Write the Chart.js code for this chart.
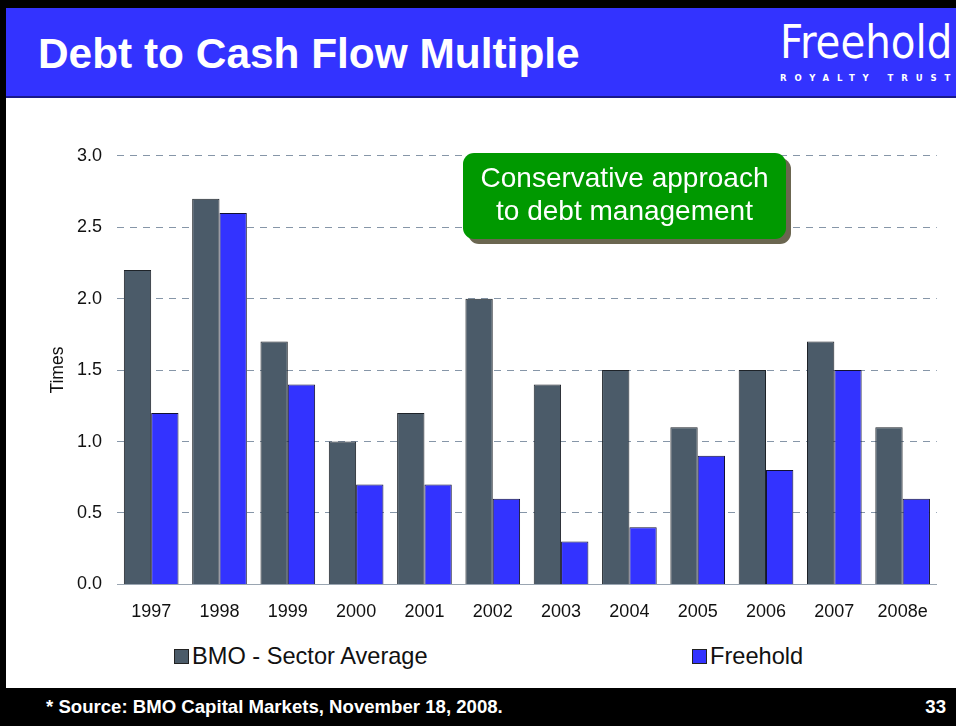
<!DOCTYPE html>
<html>
<head>
<meta charset="utf-8">
<script src="https://cdn.jsdelivr.net/npm/chart.js@4"></script>
<style>
  html, body { margin:0; padding:0; width:956px; height:726px; overflow:hidden; background:#fff; font-family:"Liberation Sans", Arial, sans-serif; }
  #slide { position:absolute; left:0; top:0; width:956px; height:726px; background:#fff; }
  #topbar { position:absolute; left:0; top:0; width:956px; height:8px; background:#000; }
  #leftbar { position:absolute; left:0; top:0; width:6px; height:688px; background:#000; }
  #header { position:absolute; left:6px; top:8px; width:950px; height:88px; background:#3333FF; border-bottom:2px solid #1a1a8a; }
  #title { position:absolute; left:32px; top:25px; color:#fff; font-weight:bold; font-size:42.4px; line-height:1; white-space:nowrap; }
  #logo { position:absolute; left:774px; top:11px; color:#fff; font-family:"DejaVu Sans Condensed","DejaVu Sans",sans-serif; font-stretch:condensed; font-size:46.5px; line-height:1; white-space:nowrap; transform-origin:0 0; transform:scaleX(0.965); }
  #logosub { position:absolute; left:774px; top:66px; color:#fff; font-weight:bold; font-size:8.5px; line-height:1; letter-spacing:7.9px; font-family:"DejaVu Sans",sans-serif; white-space:nowrap; }
  #footer { position:absolute; left:0; top:688px; width:956px; height:38px; background:#000; color:#fff; font-weight:bold; font-size:18.6px; line-height:1; }
  #src { position:absolute; left:46px; top:10px; }
  #pg { position:absolute; right:10px; top:10px; }
  #wrap { position:absolute; left:40px; top:130px; width:905px; height:510px; }
  #callout { position:absolute; left:463px; top:153px; width:323px; height:86px; background:#009900; border-radius:11px; box-shadow:5px 5px 0 #6b6650; color:#fff; font-size:28px; line-height:33px; text-align:center; box-sizing:border-box; padding-top:8px; }
  .leg { position:absolute; top:645px; font-size:23.6px; line-height:1; color:#111; display:flex; align-items:center; white-space:nowrap; }
  .sw { width:15px; height:15px; border:1px solid #222; margin-right:3px; box-sizing:border-box; }
</style>
</head>
<body>
<div id="slide">
  <div id="topbar"></div>
  <div id="leftbar"></div>
  <div id="header">
    <div id="title">Debt to Cash Flow Multiple</div>
    <div id="logo">Freehold</div>
    <div id="logosub">ROYALTY TRUST</div>
  </div>
  <div id="wrap"><canvas id="c"></canvas></div>
  <div id="callout">Conservative approach<br>to debt management</div>
  <div class="leg" id="leg0" style="left:174px;"></div>
  <div class="leg" id="leg1" style="left:692px;"></div>
  <div id="footer"><div id="src">* Source: BMO Capital Markets, November 18, 2008.</div><div id="pg">33</div></div>
</div>
<script>
const categories = ["1997","1998","1999","2000","2001","2002","2003","2004","2005","2006","2007","2008e"];
const bmoSectorAverage = [2.2, 2.7, 1.7, 1.0, 1.2, 2.0, 1.4, 1.5, 1.1, 1.5, 1.7, 1.1];
const freeholdValues = [1.2, 2.6, 1.4, 0.7, 0.7, 0.6, 0.3, 0.4, 0.9, 0.8, 1.5, 0.6];
const seriesLabels = ["BMO - Sector Average", "Freehold"];
const seriesColors = ["#4b5b69", "#3333FF"];
const yTicks = [0, 0.5, 1.0, 1.5, 2.0, 2.5, 3.0];

const font = { family: "'Liberation Sans', Arial, sans-serif", size: 18 };
const titleFont = { family: "'Liberation Sans', Arial, sans-serif", size: 17.5 };

new Chart(document.getElementById('c'), {
  type: 'bar',
  data: {
    labels: categories,
    datasets: [
      { label: seriesLabels[0], data: bmoSectorAverage, backgroundColor: seriesColors[0], borderColor: '#1e2329', borderWidth: 1, categoryPercentage: 0.8, barPercentage: 1.0 },
      { label: seriesLabels[1], data: freeholdValues, backgroundColor: seriesColors[1], borderColor: '#111133', borderWidth: 1, categoryPercentage: 0.8, barPercentage: 1.0 }
    ]
  },
  options: {
    responsive: true,
    maintainAspectRatio: false,
    animation: false,
    layout: { padding: { left: 8, right: 8, top: 0, bottom: 0 } },
    plugins: { legend: { display: false }, tooltip: { enabled: false } },
    scales: {
      x: {
        grid: { display: false, drawTicks: false },
        border: { display: true, color: '#9aa5b1', width: 1 },
        ticks: { color: '#111', font: font, padding: 17, maxRotation: 0 }
      },
      y: {
        min: 0, max: 3,
        afterBuildTicks: (axis) => { axis.ticks = yTicks.map(v => ({ value: v })); },
        grid: {
          color: (ctx) => ctx.tick && ctx.tick.value === 0 ? 'rgba(0,0,0,0)' : '#8696a8',
          lineWidth: 1,
          drawTicks: false
        },
        border: { display: false, dash: [7, 6] },
        ticks: { color: '#111', font: font, padding: 15, callback: (v) => Number(v).toFixed(1) },
        title: { display: true, text: 'Times', color: '#111', font: titleFont, padding: { top: 0, bottom: -7 } }
      }
    }
  }
});

// HTML legend built from the dataset labels and colours
seriesLabels.forEach((lab, i) => {
  const el = document.getElementById('leg' + i);
  const sw = document.createElement('div');
  sw.className = 'sw';
  sw.style.background = seriesColors[i];
  el.appendChild(sw);
  el.appendChild(document.createTextNode(lab));
});
</script>
</body>
</html>
